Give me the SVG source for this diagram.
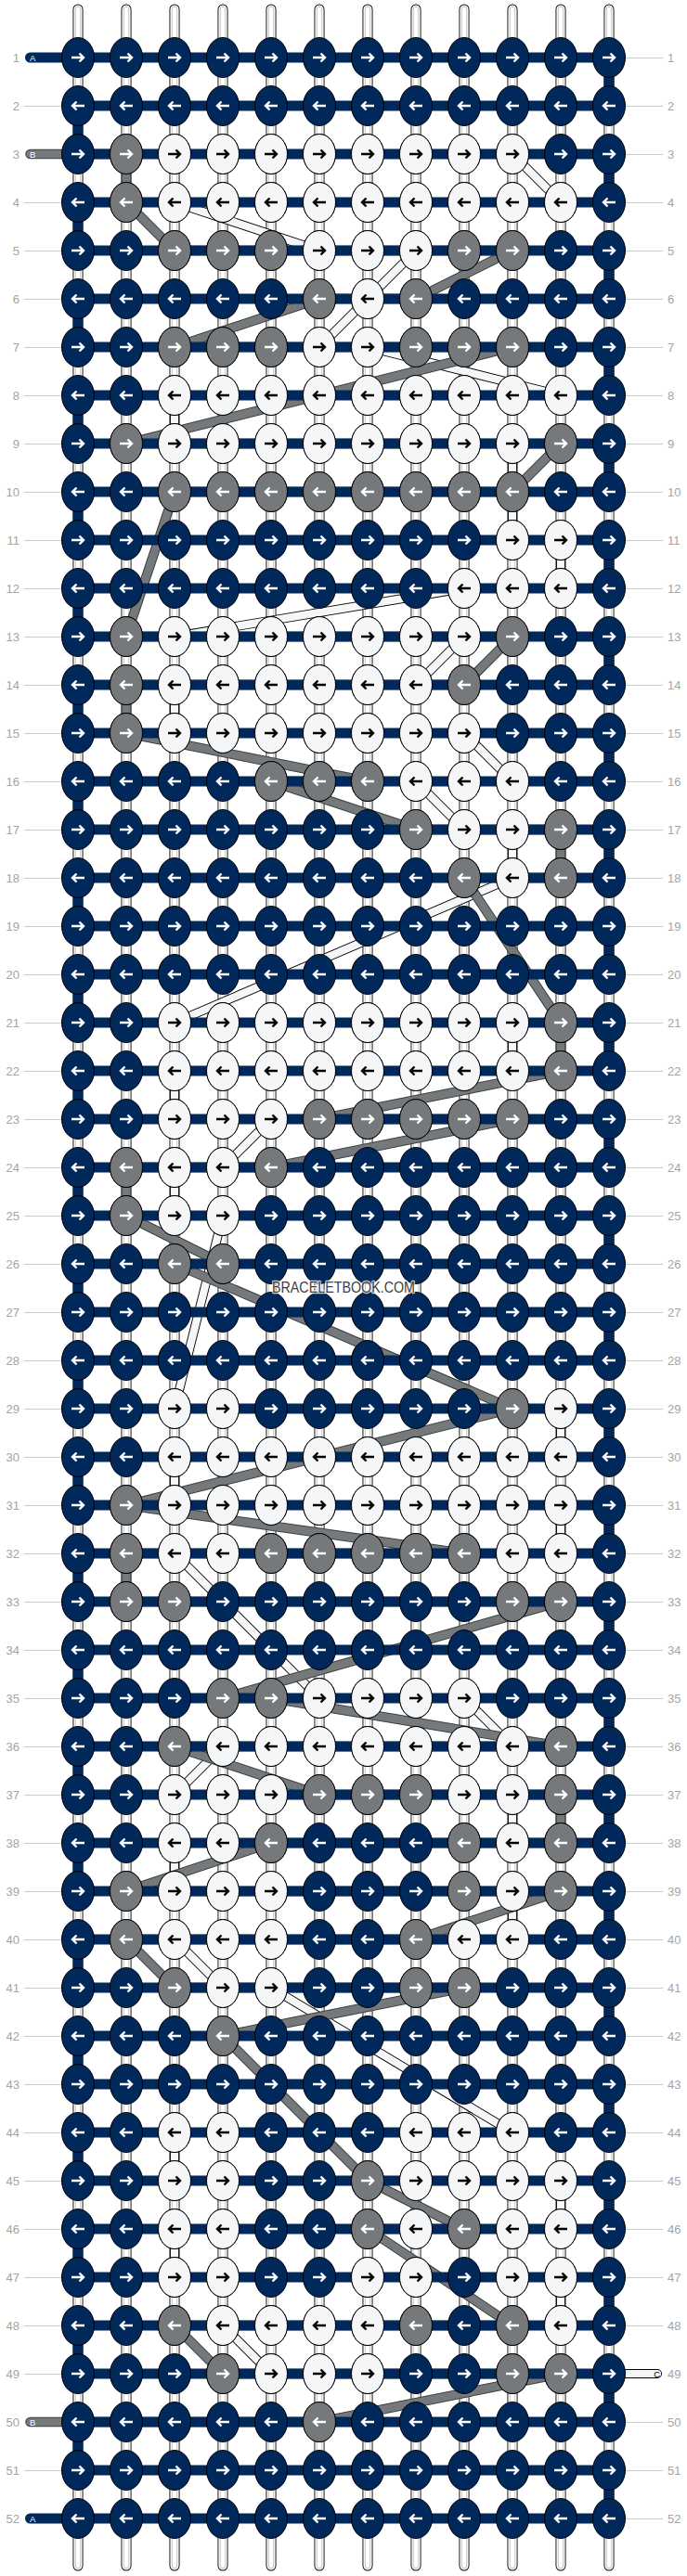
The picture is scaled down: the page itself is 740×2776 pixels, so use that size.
<svg xmlns="http://www.w3.org/2000/svg" width="740" height="2776" viewBox="0 0 740 2776">
<style>
.t{fill:none;stroke-linecap:round}
.t1{stroke:#000;stroke-width:11}
.t2{stroke:#fff;stroke-width:9.2}
.t3{stroke:#c6c6c6;stroke-width:6.4}
.t4{stroke:#fff;stroke-width:4.4}
.ba{fill:none;stroke:#00285a;stroke-width:11;stroke-linecap:round;stroke-linejoin:round}
.bo{fill:none;stroke:#3c4042;stroke-width:10.5;stroke-linecap:round;stroke-linejoin:round}
.bg{fill:none;stroke:#75797b;stroke-width:8.5;stroke-linecap:round;stroke-linejoin:round}
.co{fill:none;stroke:#000;stroke-width:10;stroke-linecap:round;stroke-linejoin:round}
.ci{fill:none;stroke:#f5f6f8;stroke-width:8.2;stroke-linecap:round;stroke-linejoin:round}
.kn{fill:#00285a;stroke:#000}
.kg{fill:#75797b;stroke:#000}
.kw{fill:#f5f6f8;stroke:#000}
.aw{fill:none;stroke:#fff;stroke-width:2.4}
.ab{fill:none;stroke:#000;stroke-width:2.4}
.ln{fill:none;stroke:#c8c8c8;stroke-width:1}
.lb{font-family:"Liberation Sans",Arial,sans-serif;font-size:13px;fill:#a4a4a4}
.ll{text-anchor:end}
.tab{font-family:"Liberation Sans",Arial,sans-serif;font-size:9.5px}
.wm{font-family:"Liberation Sans",Arial,sans-serif;font-size:16px;fill:#3d3d3d;stroke:#fff;stroke-width:2.5;stroke-opacity:.75;paint-order:stroke;stroke-linejoin:round}
</style>
<defs>
<path id="tb" d="M84 10V2765M136 10V2765M188 10V2765M240 10V2765M292 10V2765M344 10V2765M396 10V2765M448 10V2765M500 10V2765M552 10V2765M604 10V2765M656 10V2765"/>
<path id="sb" d="M32.5 166H136V218L188 270H552L448 322H344L188 374H552L136 478H604L552 530H188L136 686H552L500 738H136V790L396 842H292L448 894H604V946H500L604 1102V1154L344 1206H552L292 1258H136V1310L240 1362H188L552 1518L136 1622L500 1674H136V1726H604L240 1830H292L604 1882H188L344 1934H604V1986H292L136 2038H604L448 2090H136L188 2142H500L240 2194L396 2350L500 2402H396L552 2506H188L240 2558H604L344 2610H32.5"/>
<path id="sc" d="M188 166H552L604 218H188L344 270H448L396 322L344 374H396L604 426H188V478H552V582H604V634H500L188 686H500L448 738H188V790H500L552 842H448L500 894H552V946L188 1102H552V1154H188V1206H292L240 1258H188V1310H240L188 1518H604V1570H188V1622H604V1674H188L344 1830H500L552 1882H240L188 1934H552V1986H188V2038H552V2090H188L240 2142H292L552 2298H188V2350H604V2402H188V2454H604V2506H240L292 2558H708"/>
<g id="NR"><ellipse class="kn" rx="17.5" ry="21.5"/><path class="aw" d="M-7 0H5M1.5-4.5 6 0 1.5 4.5"/></g>
<g id="NL"><ellipse class="kn" rx="17.5" ry="21.5"/><path class="aw" d="M7 0H-5M-1.5-4.5-6 0-1.5 4.5"/></g>
<g id="GR"><ellipse class="kg" rx="17.5" ry="21.5"/><path class="aw" d="M-7 0H5M1.5-4.5 6 0 1.5 4.5"/></g>
<g id="GL"><ellipse class="kg" rx="17.5" ry="21.5"/><path class="aw" d="M7 0H-5M-1.5-4.5-6 0-1.5 4.5"/></g>
<g id="WR"><ellipse class="kw" rx="17.5" ry="21.5"/><path class="ab" d="M-7 0H5M1.5-4.5 6 0 1.5 4.5"/></g>
<g id="WL"><ellipse class="kw" rx="17.5" ry="21.5"/><path class="ab" d="M7 0H-5M-1.5-4.5-6 0-1.5 4.5"/></g>
<g id="RR"><use href="#NR" x="84"/><use href="#NR" x="136"/><use href="#NR" x="188"/><use href="#NR" x="240"/><use href="#NR" x="292"/><use href="#NR" x="344"/><use href="#NR" x="396"/><use href="#NR" x="448"/><use href="#NR" x="500"/><use href="#NR" x="552"/><use href="#NR" x="604"/><use href="#NR" x="656"/></g>
<g id="RL"><use href="#NL" x="84"/><use href="#NL" x="136"/><use href="#NL" x="188"/><use href="#NL" x="240"/><use href="#NL" x="292"/><use href="#NL" x="344"/><use href="#NL" x="396"/><use href="#NL" x="448"/><use href="#NL" x="500"/><use href="#NL" x="552"/><use href="#NL" x="604"/><use href="#NL" x="656"/></g>
</defs>
<rect width="740" height="2776" fill="#fff"/>
<g id="guides">
<path class="ln" d="M26 114.5H70M26 218.5H70M26 270.5H70M26 322.5H70M26 374.5H70M26 426.5H70M26 478.5H70M26 530.5H70M26 582.5H70M26 634.5H70M26 686.5H70M26 738.5H70M26 790.5H70M26 842.5H70M26 894.5H70M26 946.5H70M26 998.5H70M26 1050.5H70M26 1102.5H70M26 1154.5H70M26 1206.5H70M26 1258.5H70M26 1310.5H70M26 1362.5H70M26 1414.5H70M26 1466.5H70M26 1518.5H70M26 1570.5H70M26 1622.5H70M26 1674.5H70M26 1726.5H70M26 1778.5H70M26 1830.5H70M26 1882.5H70M26 1934.5H70M26 1986.5H70M26 2038.5H70M26 2090.5H70M26 2142.5H70M26 2194.5H70M26 2246.5H70M26 2298.5H70M26 2350.5H70M26 2402.5H70M26 2454.5H70M26 2506.5H70M26 2558.5H70M26 2662.5H70"/>
<path class="ln" d="M670 62.5H714M670 114.5H714M670 166.5H714M670 218.5H714M670 270.5H714M670 322.5H714M670 374.5H714M670 426.5H714M670 478.5H714M670 530.5H714M670 582.5H714M670 634.5H714M670 686.5H714M670 738.5H714M670 790.5H714M670 842.5H714M670 894.5H714M670 946.5H714M670 998.5H714M670 1050.5H714M670 1102.5H714M670 1154.5H714M670 1206.5H714M670 1258.5H714M670 1310.5H714M670 1362.5H714M670 1414.5H714M670 1466.5H714M670 1518.5H714M670 1570.5H714M670 1622.5H714M670 1674.5H714M670 1726.5H714M670 1778.5H714M670 1830.5H714M670 1882.5H714M670 1934.5H714M670 1986.5H714M670 2038.5H714M670 2090.5H714M670 2142.5H714M670 2194.5H714M670 2246.5H714M670 2298.5H714M670 2350.5H714M670 2402.5H714M670 2454.5H714M670 2506.5H714M670 2610.5H714M670 2662.5H714M670 2714.5H714"/>
</g>
<g id="strings">
<use href="#tb" class="t t1"/><use href="#tb" class="t t2"/><use href="#tb" class="t t3"/><use href="#tb" class="t t4"/>
</g>
<g id="connectors">
<g id="string-c"><use href="#sc" class="co"/><use href="#sc" class="ci"/></g>
<g id="string-b"><use href="#sb" class="bo"/><use href="#sb" class="bg"/></g>
<path id="string-a" class="ba" d="M32.5 62H656V114H84V166H656V218H84V270H656V322H84V374H656V426H84V478H656V530H84V582H656V634H84V686H656V738H84V790H656V842H84V894H656V946H84V998H656V1050H84V1102H656V1154H84V1206H656V1258H84V1310H656V1362H84V1414H656V1466H84V1518H656V1570H84V1622H656V1674H84V1726H656V1778H84V1830H656V1882H84V1934H656V1986H84V2038H656V2090H84V2142H656V2194H84V2246H656V2298H84V2350H656V2402H84V2454H656V2506H84V2558H656V2610H84V2662H656V2714H32.5"/>
</g>
<g id="knots">
<g id="row1" transform="translate(0,62)"><use href="#RR"/></g>
<g id="row2" transform="translate(0,114)"><use href="#RL"/></g>
<g id="row3" transform="translate(0,166)"><use href="#RR"/><use href="#GR" x="136"/><use href="#WR" x="188"/><use href="#WR" x="240"/><use href="#WR" x="292"/><use href="#WR" x="344"/><use href="#WR" x="396"/><use href="#WR" x="448"/><use href="#WR" x="500"/><use href="#WR" x="552"/></g>
<g id="row4" transform="translate(0,218)"><use href="#RL"/><use href="#GL" x="136"/><use href="#WL" x="188"/><use href="#WL" x="240"/><use href="#WL" x="292"/><use href="#WL" x="344"/><use href="#WL" x="396"/><use href="#WL" x="448"/><use href="#WL" x="500"/><use href="#WL" x="552"/><use href="#WL" x="604"/></g>
<g id="row5" transform="translate(0,270)"><use href="#RR"/><use href="#GR" x="188"/><use href="#GR" x="240"/><use href="#GR" x="292"/><use href="#WR" x="344"/><use href="#WR" x="396"/><use href="#WR" x="448"/><use href="#GR" x="500"/><use href="#GR" x="552"/></g>
<g id="row6" transform="translate(0,322)"><use href="#RL"/><use href="#GL" x="344"/><use href="#WL" x="396"/><use href="#GL" x="448"/></g>
<g id="row7" transform="translate(0,374)"><use href="#RR"/><use href="#GR" x="188"/><use href="#GR" x="240"/><use href="#GR" x="292"/><use href="#WR" x="344"/><use href="#WR" x="396"/><use href="#GR" x="448"/><use href="#GR" x="500"/><use href="#GR" x="552"/></g>
<g id="row8" transform="translate(0,426)"><use href="#RL"/><use href="#WL" x="188"/><use href="#WL" x="240"/><use href="#WL" x="292"/><use href="#WL" x="344"/><use href="#WL" x="396"/><use href="#WL" x="448"/><use href="#WL" x="500"/><use href="#WL" x="552"/><use href="#WL" x="604"/></g>
<g id="row9" transform="translate(0,478)"><use href="#RR"/><use href="#GR" x="136"/><use href="#WR" x="188"/><use href="#WR" x="240"/><use href="#WR" x="292"/><use href="#WR" x="344"/><use href="#WR" x="396"/><use href="#WR" x="448"/><use href="#WR" x="500"/><use href="#WR" x="552"/><use href="#GR" x="604"/></g>
<g id="row10" transform="translate(0,530)"><use href="#RL"/><use href="#GL" x="188"/><use href="#GL" x="240"/><use href="#GL" x="292"/><use href="#GL" x="344"/><use href="#GL" x="396"/><use href="#GL" x="448"/><use href="#GL" x="500"/><use href="#GL" x="552"/></g>
<g id="row11" transform="translate(0,582)"><use href="#RR"/><use href="#WR" x="552"/><use href="#WR" x="604"/></g>
<g id="row12" transform="translate(0,634)"><use href="#RL"/><use href="#WL" x="500"/><use href="#WL" x="552"/><use href="#WL" x="604"/></g>
<g id="row13" transform="translate(0,686)"><use href="#RR"/><use href="#GR" x="136"/><use href="#WR" x="188"/><use href="#WR" x="240"/><use href="#WR" x="292"/><use href="#WR" x="344"/><use href="#WR" x="396"/><use href="#WR" x="448"/><use href="#WR" x="500"/><use href="#GR" x="552"/></g>
<g id="row14" transform="translate(0,738)"><use href="#RL"/><use href="#GL" x="136"/><use href="#WL" x="188"/><use href="#WL" x="240"/><use href="#WL" x="292"/><use href="#WL" x="344"/><use href="#WL" x="396"/><use href="#WL" x="448"/><use href="#GL" x="500"/></g>
<g id="row15" transform="translate(0,790)"><use href="#RR"/><use href="#GR" x="136"/><use href="#WR" x="188"/><use href="#WR" x="240"/><use href="#WR" x="292"/><use href="#WR" x="344"/><use href="#WR" x="396"/><use href="#WR" x="448"/><use href="#WR" x="500"/></g>
<g id="row16" transform="translate(0,842)"><use href="#RL"/><use href="#GL" x="292"/><use href="#GL" x="344"/><use href="#GL" x="396"/><use href="#WL" x="448"/><use href="#WL" x="500"/><use href="#WL" x="552"/></g>
<g id="row17" transform="translate(0,894)"><use href="#RR"/><use href="#GR" x="448"/><use href="#WR" x="500"/><use href="#WR" x="552"/><use href="#GR" x="604"/></g>
<g id="row18" transform="translate(0,946)"><use href="#RL"/><use href="#GL" x="500"/><use href="#WL" x="552"/><use href="#GL" x="604"/></g>
<g id="row19" transform="translate(0,998)"><use href="#RR"/></g>
<g id="row20" transform="translate(0,1050)"><use href="#RL"/></g>
<g id="row21" transform="translate(0,1102)"><use href="#RR"/><use href="#WR" x="188"/><use href="#WR" x="240"/><use href="#WR" x="292"/><use href="#WR" x="344"/><use href="#WR" x="396"/><use href="#WR" x="448"/><use href="#WR" x="500"/><use href="#WR" x="552"/><use href="#GR" x="604"/></g>
<g id="row22" transform="translate(0,1154)"><use href="#RL"/><use href="#WL" x="188"/><use href="#WL" x="240"/><use href="#WL" x="292"/><use href="#WL" x="344"/><use href="#WL" x="396"/><use href="#WL" x="448"/><use href="#WL" x="500"/><use href="#WL" x="552"/><use href="#GL" x="604"/></g>
<g id="row23" transform="translate(0,1206)"><use href="#RR"/><use href="#WR" x="188"/><use href="#WR" x="240"/><use href="#WR" x="292"/><use href="#GR" x="344"/><use href="#GR" x="396"/><use href="#GR" x="448"/><use href="#GR" x="500"/><use href="#GR" x="552"/></g>
<g id="row24" transform="translate(0,1258)"><use href="#RL"/><use href="#GL" x="136"/><use href="#WL" x="188"/><use href="#WL" x="240"/><use href="#GL" x="292"/></g>
<g id="row25" transform="translate(0,1310)"><use href="#RR"/><use href="#GR" x="136"/><use href="#WR" x="188"/><use href="#WR" x="240"/></g>
<g id="row26" transform="translate(0,1362)"><use href="#RL"/><use href="#GL" x="188"/><use href="#GL" x="240"/></g>
<g id="row27" transform="translate(0,1414)"><use href="#RR"/></g>
<g id="row28" transform="translate(0,1466)"><use href="#RL"/></g>
<g id="row29" transform="translate(0,1518)"><use href="#RR"/><use href="#WR" x="188"/><use href="#WR" x="240"/><use href="#GR" x="552"/><use href="#WR" x="604"/></g>
<g id="row30" transform="translate(0,1570)"><use href="#RL"/><use href="#WL" x="188"/><use href="#WL" x="240"/><use href="#WL" x="292"/><use href="#WL" x="344"/><use href="#WL" x="396"/><use href="#WL" x="448"/><use href="#WL" x="500"/><use href="#WL" x="552"/><use href="#WL" x="604"/></g>
<g id="row31" transform="translate(0,1622)"><use href="#RR"/><use href="#GR" x="136"/><use href="#WR" x="188"/><use href="#WR" x="240"/><use href="#WR" x="292"/><use href="#WR" x="344"/><use href="#WR" x="396"/><use href="#WR" x="448"/><use href="#WR" x="500"/><use href="#WR" x="552"/><use href="#WR" x="604"/></g>
<g id="row32" transform="translate(0,1674)"><use href="#RL"/><use href="#GL" x="136"/><use href="#WL" x="188"/><use href="#WL" x="240"/><use href="#GL" x="292"/><use href="#GL" x="344"/><use href="#GL" x="396"/><use href="#GL" x="448"/><use href="#GL" x="500"/><use href="#WL" x="552"/><use href="#WL" x="604"/></g>
<g id="row33" transform="translate(0,1726)"><use href="#RR"/><use href="#GR" x="136"/><use href="#GR" x="188"/><use href="#GR" x="552"/><use href="#GR" x="604"/></g>
<g id="row34" transform="translate(0,1778)"><use href="#RL"/></g>
<g id="row35" transform="translate(0,1830)"><use href="#RR"/><use href="#GR" x="240"/><use href="#GR" x="292"/><use href="#WR" x="344"/><use href="#WR" x="396"/><use href="#WR" x="448"/><use href="#WR" x="500"/></g>
<g id="row36" transform="translate(0,1882)"><use href="#RL"/><use href="#GL" x="188"/><use href="#WL" x="240"/><use href="#WL" x="292"/><use href="#WL" x="344"/><use href="#WL" x="396"/><use href="#WL" x="448"/><use href="#WL" x="500"/><use href="#WL" x="552"/><use href="#GL" x="604"/></g>
<g id="row37" transform="translate(0,1934)"><use href="#RR"/><use href="#WR" x="188"/><use href="#WR" x="240"/><use href="#WR" x="292"/><use href="#GR" x="344"/><use href="#GR" x="396"/><use href="#GR" x="448"/><use href="#WR" x="500"/><use href="#WR" x="552"/><use href="#GR" x="604"/></g>
<g id="row38" transform="translate(0,1986)"><use href="#RL"/><use href="#WL" x="188"/><use href="#WL" x="240"/><use href="#GL" x="292"/><use href="#GL" x="500"/><use href="#WL" x="552"/><use href="#GL" x="604"/></g>
<g id="row39" transform="translate(0,2038)"><use href="#RR"/><use href="#GR" x="136"/><use href="#WR" x="188"/><use href="#WR" x="240"/><use href="#WR" x="292"/><use href="#GR" x="500"/><use href="#WR" x="552"/><use href="#GR" x="604"/></g>
<g id="row40" transform="translate(0,2090)"><use href="#RL"/><use href="#GL" x="136"/><use href="#WL" x="188"/><use href="#WL" x="240"/><use href="#WL" x="292"/><use href="#GL" x="448"/><use href="#WL" x="500"/><use href="#WL" x="552"/></g>
<g id="row41" transform="translate(0,2142)"><use href="#RR"/><use href="#GR" x="188"/><use href="#WR" x="240"/><use href="#WR" x="292"/><use href="#GR" x="448"/><use href="#GR" x="500"/></g>
<g id="row42" transform="translate(0,2194)"><use href="#RL"/><use href="#GL" x="240"/></g>
<g id="row43" transform="translate(0,2246)"><use href="#RR"/></g>
<g id="row44" transform="translate(0,2298)"><use href="#RL"/><use href="#WL" x="188"/><use href="#WL" x="240"/><use href="#WL" x="448"/><use href="#WL" x="500"/><use href="#WL" x="552"/></g>
<g id="row45" transform="translate(0,2350)"><use href="#RR"/><use href="#WR" x="188"/><use href="#WR" x="240"/><use href="#GR" x="396"/><use href="#WR" x="448"/><use href="#WR" x="500"/><use href="#WR" x="552"/><use href="#WR" x="604"/></g>
<g id="row46" transform="translate(0,2402)"><use href="#RL"/><use href="#WL" x="188"/><use href="#WL" x="240"/><use href="#GL" x="396"/><use href="#WL" x="448"/><use href="#GL" x="500"/><use href="#WL" x="552"/><use href="#WL" x="604"/></g>
<g id="row47" transform="translate(0,2454)"><use href="#RR"/><use href="#WR" x="188"/><use href="#WR" x="240"/><use href="#WR" x="396"/><use href="#WR" x="448"/><use href="#WR" x="552"/><use href="#WR" x="604"/></g>
<g id="row48" transform="translate(0,2506)"><use href="#RL"/><use href="#GL" x="188"/><use href="#WL" x="240"/><use href="#WL" x="292"/><use href="#WL" x="344"/><use href="#WL" x="396"/><use href="#GL" x="448"/><use href="#GL" x="552"/><use href="#WL" x="604"/></g>
<g id="row49" transform="translate(0,2558)"><use href="#RR"/><use href="#GR" x="240"/><use href="#WR" x="292"/><use href="#WR" x="344"/><use href="#WR" x="396"/><use href="#GR" x="552"/><use href="#GR" x="604"/></g>
<g id="row50" transform="translate(0,2610)"><use href="#RL"/><use href="#GL" x="344"/></g>
<g id="row51" transform="translate(0,2662)"><use href="#RR"/></g>
<g id="row52" transform="translate(0,2714)"><use href="#RL"/></g>
</g>
<g id="tab-labels" class="tab">
<text x="32" y="65.5" fill="#fff">A</text>
<text x="32" y="169.5" fill="#fff">B</text>
<text x="32" y="2613.5" fill="#fff">B</text>
<text x="32" y="2717.5" fill="#fff">A</text>
<text x="711" y="2561.5" fill="#000" text-anchor="end">C</text>
</g>
<g id="row-numbers-left" class="lb ll">
<text x="21" y="66.5">1</text><text x="21" y="118.5">2</text><text x="21" y="170.5">3</text><text x="21" y="222.5">4</text><text x="21" y="274.5">5</text><text x="21" y="326.5">6</text><text x="21" y="378.5">7</text><text x="21" y="430.5">8</text><text x="21" y="482.5">9</text><text x="21" y="534.5">10</text><text x="21" y="586.5">11</text><text x="21" y="638.5">12</text><text x="21" y="690.5">13</text><text x="21" y="742.5">14</text><text x="21" y="794.5">15</text><text x="21" y="846.5">16</text><text x="21" y="898.5">17</text><text x="21" y="950.5">18</text><text x="21" y="1002.5">19</text><text x="21" y="1054.5">20</text><text x="21" y="1106.5">21</text><text x="21" y="1158.5">22</text><text x="21" y="1210.5">23</text><text x="21" y="1262.5">24</text><text x="21" y="1314.5">25</text><text x="21" y="1366.5">26</text><text x="21" y="1418.5">27</text><text x="21" y="1470.5">28</text><text x="21" y="1522.5">29</text><text x="21" y="1574.5">30</text><text x="21" y="1626.5">31</text><text x="21" y="1678.5">32</text><text x="21" y="1730.5">33</text><text x="21" y="1782.5">34</text><text x="21" y="1834.5">35</text><text x="21" y="1886.5">36</text><text x="21" y="1938.5">37</text><text x="21" y="1990.5">38</text><text x="21" y="2042.5">39</text><text x="21" y="2094.5">40</text><text x="21" y="2146.5">41</text><text x="21" y="2198.5">42</text><text x="21" y="2250.5">43</text><text x="21" y="2302.5">44</text><text x="21" y="2354.5">45</text><text x="21" y="2406.5">46</text><text x="21" y="2458.5">47</text><text x="21" y="2510.5">48</text><text x="21" y="2562.5">49</text><text x="21" y="2614.5">50</text><text x="21" y="2666.5">51</text><text x="21" y="2718.5">52</text>
</g>
<g id="row-numbers-right" class="lb">
<text x="719" y="66.5">1</text><text x="719" y="118.5">2</text><text x="719" y="170.5">3</text><text x="719" y="222.5">4</text><text x="719" y="274.5">5</text><text x="719" y="326.5">6</text><text x="719" y="378.5">7</text><text x="719" y="430.5">8</text><text x="719" y="482.5">9</text><text x="719" y="534.5">10</text><text x="719" y="586.5">11</text><text x="719" y="638.5">12</text><text x="719" y="690.5">13</text><text x="719" y="742.5">14</text><text x="719" y="794.5">15</text><text x="719" y="846.5">16</text><text x="719" y="898.5">17</text><text x="719" y="950.5">18</text><text x="719" y="1002.5">19</text><text x="719" y="1054.5">20</text><text x="719" y="1106.5">21</text><text x="719" y="1158.5">22</text><text x="719" y="1210.5">23</text><text x="719" y="1262.5">24</text><text x="719" y="1314.5">25</text><text x="719" y="1366.5">26</text><text x="719" y="1418.5">27</text><text x="719" y="1470.5">28</text><text x="719" y="1522.5">29</text><text x="719" y="1574.5">30</text><text x="719" y="1626.5">31</text><text x="719" y="1678.5">32</text><text x="719" y="1730.5">33</text><text x="719" y="1782.5">34</text><text x="719" y="1834.5">35</text><text x="719" y="1886.5">36</text><text x="719" y="1938.5">37</text><text x="719" y="1990.5">38</text><text x="719" y="2042.5">39</text><text x="719" y="2094.5">40</text><text x="719" y="2146.5">41</text><text x="719" y="2198.5">42</text><text x="719" y="2250.5">43</text><text x="719" y="2302.5">44</text><text x="719" y="2354.5">45</text><text x="719" y="2406.5">46</text><text x="719" y="2458.5">47</text><text x="719" y="2510.5">48</text><text x="719" y="2562.5">49</text><text x="719" y="2614.5">50</text><text x="719" y="2666.5">51</text><text x="719" y="2718.5">52</text>
</g>
<g id="watermark"><text class="wm" x="370" y="1393" text-anchor="middle" textLength="154" lengthAdjust="spacingAndGlyphs">BRACELETBOOK.COM</text></g>
</svg>
